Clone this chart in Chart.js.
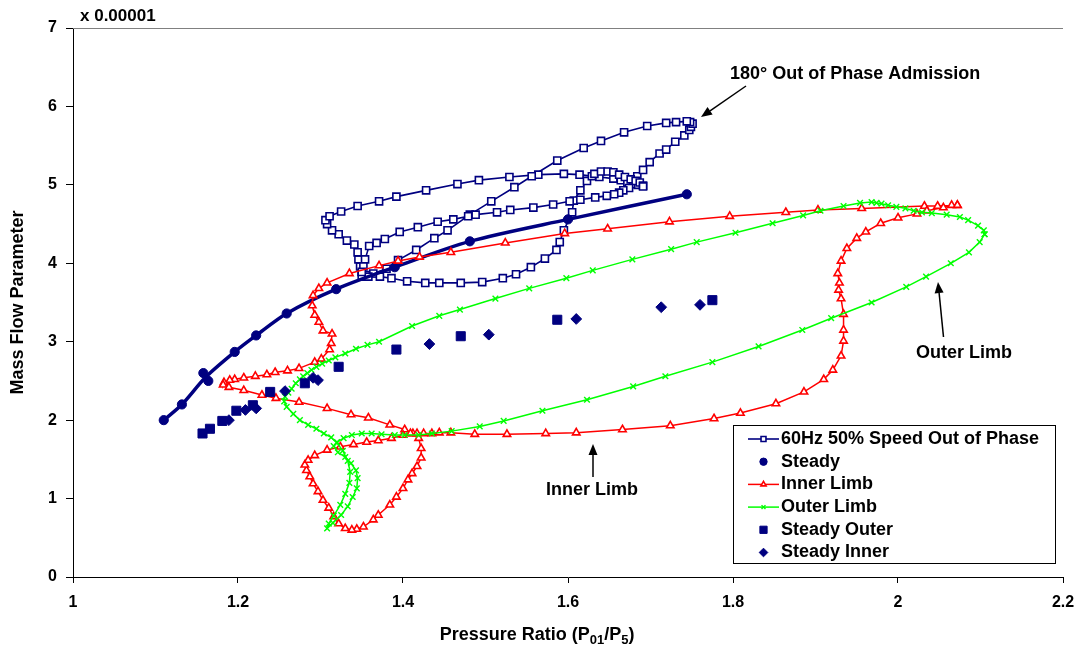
<!DOCTYPE html>
<html>
<head>
<meta charset="utf-8">
<script src="https://cdn.jsdelivr.net/npm/chart.js@4.4.1/dist/chart.umd.min.js"></script>
<style>
  html, body { margin: 0; padding: 0; background: #fff; }
</style>
</head>
<body>
<canvas id="chart" width="1085" height="648"></canvas>
<script>
// Pressure ratio (x) vs mass flow parameter (y, x 0.00001)

// 60Hz 50% speed, out of phase: one full pulse cycle
const outOfPhase = [
  [1.350,3.89],[1.348,3.96],[1.346,4.05],[1.345,4.14],[1.341,4.24],[1.332,4.29],[1.322,4.37],[1.314,4.42],
  [1.308,4.50],[1.306,4.55],[1.311,4.60],[1.325,4.66],[1.345,4.73],[1.371,4.79],[1.392,4.85],[1.428,4.93],
  [1.466,5.01],[1.492,5.06],[1.529,5.10],[1.564,5.13],[1.595,5.14],[1.614,5.13],[1.638,5.10],[1.655,5.08],
  [1.664,5.06],[1.672,5.03],[1.679,5.01],[1.685,5.00],[1.684,5.11],[1.691,5.19],[1.699,5.29],[1.711,5.40],
  [1.719,5.45],[1.730,5.55],[1.741,5.63],[1.747,5.70],[1.749,5.74],[1.751,5.78],[1.748,5.80],[1.744,5.81],
  [1.731,5.80],[1.719,5.79],[1.696,5.75],[1.668,5.67],[1.640,5.56],[1.619,5.47],[1.587,5.31],[1.556,5.11],
  [1.535,4.97],[1.507,4.79],[1.481,4.62],[1.454,4.42],[1.438,4.32],[1.416,4.17],[1.394,4.04],[1.380,3.93],
  [1.364,3.87],[1.355,3.85],[1.350,3.83],[1.358,3.83],[1.372,3.83],[1.386,3.81],[1.405,3.77],[1.427,3.75],
  [1.444,3.75],[1.470,3.75],[1.496,3.76],[1.521,3.81],[1.537,3.86],[1.555,3.95],[1.572,4.06],[1.586,4.17],
  [1.590,4.27],[1.595,4.42],[1.605,4.65],[1.607,4.80],[1.615,4.93],[1.623,5.05],[1.629,5.11],[1.632,5.14],
  [1.640,5.17],[1.648,5.17],[1.655,5.16],[1.662,5.13],[1.669,5.10],[1.676,5.07],[1.682,5.05],[1.687,5.03],
  [1.691,4.99],[1.691,4.98],[1.674,4.96],[1.667,4.93],[1.662,4.90],[1.656,4.88],[1.647,4.86],[1.633,4.84],
  [1.615,4.81],[1.602,4.79],[1.582,4.75],[1.558,4.71],[1.530,4.68],[1.514,4.65],[1.488,4.62],[1.479,4.60],
  [1.461,4.56],[1.442,4.53],[1.418,4.46],[1.396,4.40],[1.378,4.31],[1.368,4.26],[1.359,4.22],[1.354,4.05],
  [1.352,3.96],[1.350,3.89]
];

// steady points and the fitted curve drawn through them
const steady = [
  [1.110,2.00],[1.132,2.20],[1.158,2.60],[1.164,2.50],[1.196,2.87],[1.222,3.08],
  [1.259,3.36],[1.319,3.67],[1.390,3.95],[1.481,4.28],[1.600,4.56],[1.744,4.88]
];
const steadyFit = [
  [1.110,2.00],[1.132,2.20],[1.161,2.55],[1.196,2.87],[1.222,3.08],[1.259,3.36],
  [1.319,3.67],[1.390,3.95],[1.481,4.28],[1.600,4.56],[1.744,4.88]
];

// inner limb loop
const innerLimb = [
  [2.072,4.74],[2.048,4.73],[2.032,4.73],[1.956,4.70],[1.903,4.68],[1.864,4.65],[1.796,4.60],[1.723,4.53],
  [1.648,4.44],[1.596,4.38],[1.524,4.26],[1.458,4.14],[1.420,4.08],[1.394,4.03],[1.371,3.97],[1.335,3.87],
  [1.308,3.75],[1.298,3.68],[1.291,3.59],[1.290,3.46],[1.293,3.34],[1.298,3.25],[1.303,3.14],[1.314,3.10],
  [1.313,2.98],[1.311,2.90],[1.301,2.78],[1.293,2.74],[1.274,2.66],[1.260,2.63],[1.245,2.61],[1.235,2.58],
  [1.221,2.56],[1.207,2.54],[1.196,2.52],[1.190,2.51],[1.183,2.48],[1.182,2.45],[1.189,2.42],[1.207,2.38],
  [1.229,2.32],[1.246,2.28],[1.274,2.23],[1.308,2.15],[1.337,2.07],[1.358,2.03],[1.384,1.94],[1.402,1.88],
  [1.412,1.83],[1.419,1.77],[1.422,1.64],[1.422,1.52],[1.417,1.41],[1.411,1.32],[1.406,1.24],[1.400,1.13],
  [1.392,1.02],[1.384,0.92],[1.370,0.79],[1.364,0.73],[1.352,0.64],[1.344,0.61],[1.338,0.60],[1.330,0.62],
  [1.322,0.68],[1.316,0.77],[1.310,0.88],[1.303,0.98],[1.297,1.09],[1.291,1.19],[1.287,1.28],[1.283,1.36],
  [1.281,1.43],[1.285,1.49],[1.293,1.55],[1.308,1.62],[1.324,1.66],[1.340,1.69],[1.356,1.72],[1.370,1.74],
  [1.386,1.77],[1.400,1.81],[1.409,1.83],[1.417,1.83],[1.425,1.83],[1.435,1.83],[1.444,1.84],[1.458,1.84],
  [1.487,1.82],[1.526,1.82],[1.573,1.83],[1.610,1.84],[1.666,1.88],[1.724,1.93],[1.777,2.02],[1.809,2.09],
  [1.852,2.21],[1.886,2.36],[1.910,2.52],[1.921,2.64],[1.931,2.82],[1.934,3.01],[1.934,3.15],[1.934,3.35],
  [1.931,3.55],[1.928,3.66],[1.929,3.75],[1.927,3.87],[1.931,4.03],[1.938,4.19],[1.950,4.32],[1.961,4.40],
  [1.979,4.51],[2.000,4.58],[2.023,4.63],[2.035,4.67],[2.055,4.71],[2.065,4.74],[2.072,4.74]
];

// outer limb loop
const outerLimb = [
  [2.105,4.37],[2.099,4.27],[2.086,4.14],[2.064,4.00],[2.034,3.83],[2.010,3.70],[1.968,3.50],[1.919,3.30],
  [1.884,3.15],[1.831,2.94],[1.775,2.74],[1.718,2.56],[1.679,2.43],[1.623,2.26],[1.569,2.12],[1.522,1.99],
  [1.493,1.92],[1.459,1.86],[1.435,1.83],[1.419,1.81],[1.402,1.81],[1.390,1.81],[1.374,1.82],[1.362,1.83],
  [1.350,1.83],[1.338,1.81],[1.328,1.77],[1.320,1.72],[1.316,1.67],[1.321,1.59],[1.330,1.53],[1.337,1.45],
  [1.343,1.36],[1.345,1.26],[1.344,1.13],[1.339,1.02],[1.333,0.90],[1.325,0.79],[1.315,0.69],[1.308,0.62],
  [1.310,0.68],[1.316,0.78],[1.324,0.92],[1.330,1.06],[1.335,1.20],[1.336,1.34],[1.333,1.48],[1.327,1.61],
  [1.320,1.71],[1.313,1.78],[1.304,1.83],[1.295,1.89],[1.285,1.94],[1.275,2.00],[1.267,2.08],[1.259,2.17],
  [1.256,2.24],[1.257,2.30],[1.261,2.35],[1.265,2.40],[1.270,2.47],[1.275,2.52],[1.279,2.56],[1.284,2.60],
  [1.289,2.64],[1.295,2.68],[1.302,2.72],[1.310,2.76],[1.318,2.80],[1.330,2.85],[1.343,2.91],[1.357,2.96],
  [1.371,3.00],[1.411,3.20],[1.444,3.33],[1.469,3.41],[1.512,3.55],[1.553,3.68],[1.598,3.81],[1.630,3.91],
  [1.678,4.05],[1.725,4.18],[1.756,4.27],[1.803,4.39],[1.848,4.51],[1.885,4.61],[1.906,4.67],[1.934,4.73],
  [1.954,4.77],[1.968,4.78],[1.974,4.77],[1.980,4.76],[1.988,4.74],[1.998,4.72],[2.009,4.70],[2.019,4.67],
  [2.029,4.65],[2.041,4.64],[2.059,4.62],[2.075,4.59],[2.085,4.55],[2.097,4.48],[2.104,4.42],[2.105,4.37]
];

const steadyOuter = [
  [1.157,1.83],[1.166,1.89],[1.181,1.99],[1.198,2.12],[1.218,2.19],[1.239,2.36],
  [1.281,2.47],[1.322,2.68],[1.392,2.90],[1.470,3.07],[1.587,3.28],[1.775,3.53]
];
const steadyInner = [
  [1.189,2.00],[1.209,2.13],[1.222,2.15],[1.257,2.37],[1.291,2.54],[1.297,2.51],
  [1.432,2.97],[1.504,3.09],[1.610,3.29],[1.713,3.44],[1.760,3.47]
];

const xTicks = [1, 1.2, 1.4, 1.6, 1.8, 2, 2.2];
const yTicks = [0, 1, 2, 3, 4, 5, 6, 7];

const NAVY = '#000080';
const RED = '#ff0000';
const GREEN = '#00ff00';
const FONT = '"Liberation Sans", Arial, sans-serif';

function pts(arr) {
  return arr.map(p => ({ x: p[0], y: p[1] }));
}

// text notes with arrows (canvas pixels)
const notes = [
  { text: '180\u00B0 Out of Phase Admission', x: 730, y: 74, from: [746, 86], to: [701, 117] },
  { text: 'Outer Limb', x: 916, y: 353, from: [943.5, 337], to: [938, 282] },
  { text: 'Inner Limb', x: 546, y: 490, from: [593, 477], to: [593, 444] }
];

function drawArrow(ctx, a, b) {
  const ang = Math.atan2(b[1] - a[1], b[0] - a[0]);
  const len = 11, w = 4.5;
  const bx = b[0] - len * Math.cos(ang), by = b[1] - len * Math.sin(ang);
  ctx.beginPath();
  ctx.moveTo(a[0], a[1]);
  ctx.lineTo(bx, by);
  ctx.stroke();
  ctx.beginPath();
  ctx.moveTo(b[0], b[1]);
  ctx.lineTo(bx + w * Math.sin(ang), by - w * Math.cos(ang));
  ctx.lineTo(bx - w * Math.sin(ang), by + w * Math.cos(ang));
  ctx.closePath();
  ctx.fill();
}

const extras = {
  id: 'extras',
  afterDraw(chart) {
    const ctx = chart.ctx;
    const area = chart.chartArea;
    ctx.save();

    // plot area top edge
    ctx.strokeStyle = '#808080';
    ctx.lineWidth = 1;
    ctx.beginPath();
    ctx.moveTo(area.left, area.top + 0.5);
    ctx.lineTo(area.right, area.top + 0.5);
    ctx.stroke();

    // scale factor note
    ctx.fillStyle = '#000';
    ctx.font = 'bold 17px ' + FONT;
    ctx.textBaseline = 'middle';
    ctx.textAlign = 'left';
    ctx.fillText('x 0.00001', 80, 16);

    // x axis title with subscripts
    const big = 'bold 18px ' + FONT, small = 'bold 13px ' + FONT;
    const parts = [['Pressure Ratio (P', big, 0], ['01', small, 4], ['/P', big, 0], ['5', small, 4], [')', big, 0]];
    let total = 0;
    parts.forEach(p => { ctx.font = p[1]; total += ctx.measureText(p[0]).width; });
    let tx = 537 - total / 2;
    ctx.textBaseline = 'alphabetic';
    parts.forEach(p => {
      ctx.font = p[1];
      ctx.fillText(p[0], tx, 640 + p[2]);
      tx += ctx.measureText(p[0]).width;
    });

    // notes with arrows
    ctx.font = 'bold 18px ' + FONT;
    ctx.textBaseline = 'middle';
    ctx.strokeStyle = '#000';
    ctx.lineWidth = 1.5;
    notes.forEach(n => {
      ctx.fillText(n.text, n.x, n.y);
      drawArrow(ctx, n.from, n.to);
    });

    // legend box
    const box = { x: 733.5, y: 425.5, w: 322, h: 138 };
    ctx.fillStyle = '#fff';
    ctx.fillRect(box.x, box.y, box.w, box.h);
    ctx.strokeStyle = '#000';
    ctx.lineWidth = 1;
    ctx.strokeRect(box.x, box.y, box.w, box.h);
    const rows = chart.data.datasets.filter(d => !d.noLegend);
    rows.forEach((d, i) => {
      const cy = 439 + i * 22.7;
      if (d.showLine) {
        ctx.strokeStyle = d.borderColor;
        ctx.lineWidth = d.borderWidth;
        ctx.beginPath();
        ctx.moveTo(748, cy);
        ctx.lineTo(779, cy);
        ctx.stroke();
      }
      ctx.fillStyle = d.pointBackgroundColor;
      ctx.strokeStyle = d.pointBorderColor;
      ctx.lineWidth = d.pointBorderWidth;
      Chart.helpers.drawPoint(ctx, {
        pointStyle: d.pointStyle,
        radius: d.showLine ? d.pointRadius * 0.7 : d.pointRadius * 0.8,
        borderWidth: d.pointBorderWidth,
        rotation: 0
      }, 763.5, cy);
      ctx.fillStyle = '#000';
      ctx.font = 'bold 18px ' + FONT;
      ctx.textBaseline = 'middle';
      ctx.fillText(d.label, 781, cy);
    });

    ctx.restore();
  }
};

const tickFont = { family: FONT, size: 16, weight: 'bold' };

new Chart(document.getElementById('chart'), {
  type: 'scatter',
  data: {
    datasets: [
      {
        label: '60Hz 50% Speed Out of Phase',
        data: pts(outOfPhase),
        showLine: true,
        borderColor: NAVY,
        borderWidth: 1.6,
        pointStyle: 'rect',
        pointRadius: 5,
        pointBorderWidth: 1.6,
        pointBackgroundColor: '#fff',
        pointBorderColor: NAVY,
        order: 7
      },
      {
        label: 'Steady fit',
        noLegend: true,
        data: pts(steadyFit),
        showLine: true,
        borderColor: NAVY,
        borderWidth: 3.5,
        tension: 0.3,
        pointRadius: 0,
        order: 6
      },
      {
        label: 'Steady',
        data: pts(steady),
        showLine: false,
        pointStyle: 'circle',
        pointRadius: 4.6,
        pointBorderWidth: 1,
        pointBackgroundColor: NAVY,
        pointBorderColor: NAVY,
        order: 5
      },
      {
        label: 'Inner Limb',
        data: pts(innerLimb),
        showLine: true,
        borderColor: RED,
        borderWidth: 1.5,
        pointStyle: 'triangle',
        pointRadius: 4.3,
        pointBorderWidth: 1.6,
        pointBackgroundColor: '#fff',
        pointBorderColor: RED,
        order: 4
      },
      {
        label: 'Outer Limb',
        data: pts(outerLimb),
        showLine: true,
        borderColor: GREEN,
        borderWidth: 1.5,
        pointStyle: 'crossRot',
        pointRadius: 4,
        pointBorderWidth: 1.4,
        pointBackgroundColor: GREEN,
        pointBorderColor: GREEN,
        order: 3
      },
      {
        label: 'Steady Outer',
        data: pts(steadyOuter),
        showLine: false,
        pointStyle: 'rect',
        pointRadius: 6.4,
        pointBorderWidth: 1,
        pointBackgroundColor: NAVY,
        pointBorderColor: NAVY,
        order: 2
      },
      {
        label: 'Steady Inner',
        data: pts(steadyInner),
        showLine: false,
        pointStyle: 'rectRot',
        pointRadius: 5.4,
        pointBorderWidth: 1,
        pointBackgroundColor: NAVY,
        pointBorderColor: NAVY,
        order: 1
      }
    ]
  },
  options: {
    responsive: false,
    animation: false,
    events: [],
    layout: { padding: { left: 0, top: 28, right: 22, bottom: 0 } },
    plugins: {
      legend: { display: false },
      tooltip: { enabled: false }
    },
    scales: {
      x: {
        type: 'linear',
        min: 1,
        max: 2.2,
        afterFit: s => { s.height = 71; },
        afterBuildTicks: s => { s.ticks = xTicks.map(v => ({ value: v })); },
        ticks: {
          font: tickFont,
          color: '#000',
          padding: 10,
          callback: v => String(Math.round(v * 10) / 10)
        },
        grid: { drawOnChartArea: false, drawTicks: true, tickLength: 6, tickColor: '#000', tickWidth: 1 },
        border: { color: '#000', width: 1 }
      },
      y: {
        type: 'linear',
        min: 0,
        max: 7,
        afterFit: s => { s.width = 73; },
        afterBuildTicks: s => { s.ticks = yTicks.map(v => ({ value: v })); },
        ticks: { font: tickFont, color: '#000', padding: 9 },
        grid: { drawOnChartArea: false, drawTicks: true, tickLength: 7, tickColor: '#000', tickWidth: 1 },
        border: { color: '#000', width: 1 },
        title: {
          display: true,
          text: 'Mass Flow Parameter',
          color: '#000',
          font: { family: FONT, size: 18, weight: 'bold' },
          padding: { top: 7, bottom: 0 }
        }
      }
    }
  },
  plugins: [extras]
});
</script>
</body>
</html>
